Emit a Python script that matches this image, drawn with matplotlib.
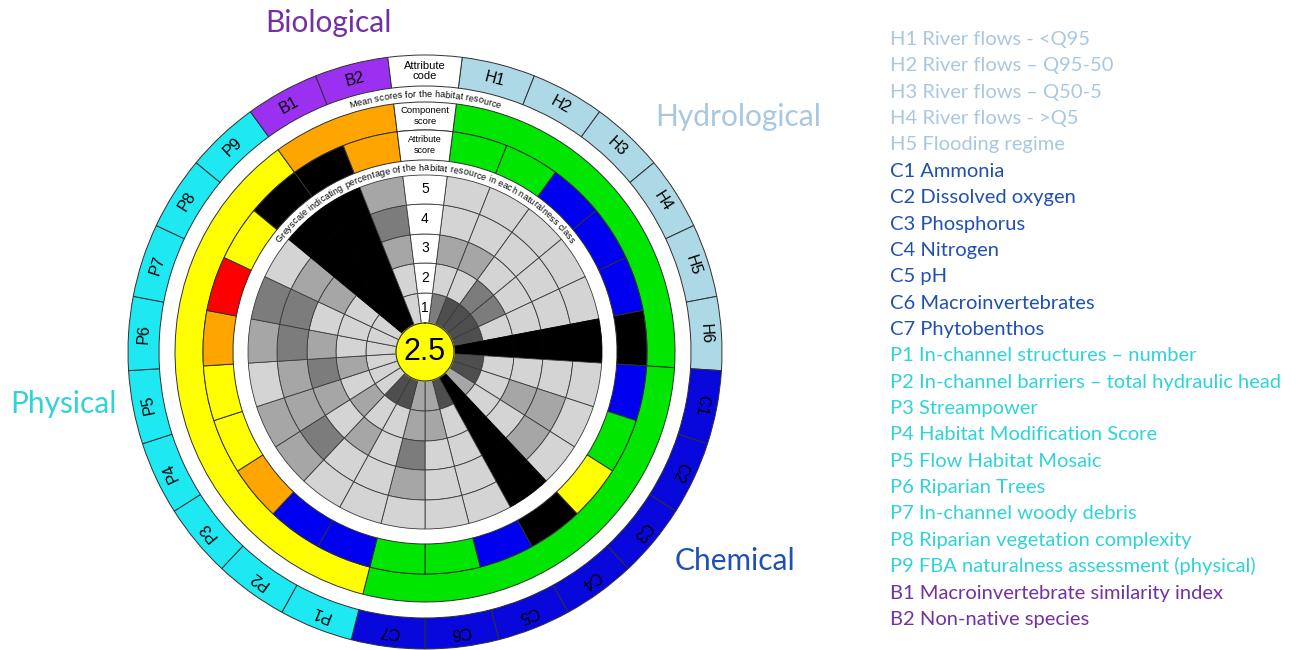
import numpy as np
import matplotlib
matplotlib.use("Agg")
import matplotlib.pyplot as plt
from matplotlib.font_manager import FontProperties, findfont, get_font

# attribute codes, clockwise from the header segment at the top
codes = ["H1", "H2", "H3", "H4", "H5", "H6",
         "C1", "C2", "C3", "C4", "C5", "C6", "C7",
         "P1", "P2", "P3", "P4", "P5", "P6", "P7", "P8", "P9",
         "B1", "B2"]

# attribute score class for each code
attr_class = ["good", "good", "high", "high", "high", "none",
              "high", "good", "moderate", "none", "high", "good", "good",
              "high", "high", "poor", "moderate", "moderate", "poor", "bad", "moderate", "none",
              "none", "poor"]

# component score class for each group
comp_groups = ["H", "C", "P", "B"]
comp_class = ["good", "good", "moderate", "poor"]

# greyscale shade per naturalness class 1..5 (1 light .. 5 black)
grey_shade = [
    [3, 1, 2, 1, 1], [4, 1, 2, 1, 1], [4, 3, 1, 1, 1], [4, 3, 1, 1, 1], [4, 1, 1, 1, 1], [5, 5, 5, 5, 5],
    [4, 1, 1, 1, 1], [4, 1, 2, 2, 1], [2, 1, 1, 2, 1], [5, 5, 5, 5, 5], [4, 1, 1, 1, 1], [2, 2, 1, 1, 1],
    [2, 2, 3, 2, 1],
    [4, 1, 1, 1, 1], [4, 1, 2, 1, 1], [1, 2, 1, 3, 2], [1, 1, 2, 2, 2], [1, 2, 3, 2, 1], [1, 1, 2, 3, 2],
    [1, 1, 1, 3, 3], [1, 1, 2, 2, 1], [5, 5, 5, 5, 5],
    [5, 5, 5, 5, 5], [1, 1, 2, 3, 2],
]
overall_score = 2.5

legend_entries = [
    ("H", "H1 River flows - <Q95"),
    ("H", "H2 River flows \u2013 Q95-50"),
    ("H", "H3 River flows \u2013 Q50-5"),
    ("H", "H4 River flows - >Q5"),
    ("H", "H5 Flooding regime"),
    ("C", "C1 Ammonia"),
    ("C", "C2 Dissolved oxygen"),
    ("C", "C3 Phosphorus"),
    ("C", "C4 Nitrogen"),
    ("C", "C5 pH"),
    ("C", "C6 Macroinvertebrates"),
    ("C", "C7 Phytobenthos"),
    ("P", "P1 In-channel structures \u2013 number"),
    ("P", "P2 In-channel barriers \u2013 total hydraulic head"),
    ("P", "P3 Streampower"),
    ("P", "P4 Habitat Modification Score"),
    ("P", "P5 Flow Habitat Mosaic"),
    ("P", "P6 Riparian Trees"),
    ("P", "P7 In-channel woody debris"),
    ("P", "P8 Riparian vegetation complexity"),
    ("P", "P9 FBA naturalness assessment (physical)"),
    ("B", "B1 Macroinvertebrate similarity index"),
    ("B", "B2 Non-native species"),
]

code_colours = {"H": "#add8e6", "C": "#0808dc", "P": "#1ee8f2", "B": "#9b30f0"}
class_colours = {"high": "#0000f0", "good": "#00e600", "moderate": "#ffff00",
                 "poor": "#ffa500", "bad": "#ff0000", "none": "#000000"}
shades = {1: "#d4d4d4", 2: "#a6a6a6", 3: "#7c7c7c", 4: "#4e4e4e", 5: "#000000"}
text_colours = {"H": "#a8c8e2", "C": "#2050b4", "P": "#2fd3d9", "B": "#7232a2"}

W, H = 1299, 650
fig = plt.figure(figsize=(W / 100, H / 100), dpi=100)
cx, cy, R = 425, 352, 300
ax = fig.add_axes([(cx - R) / W, (H - cy - R) / H, 2 * R / W, 2 * R / H], projection="polar")
ax.set_theta_zero_location("N")
ax.set_theta_direction(-1)
ax.set_ylim(0, R)
ax.axis("off")

nseg = len(codes) + 1
w = 2 * np.pi / nseg
theta = np.arange(1, nseg) * w
groups = [c[0] for c in codes]
edge = "#303030"

# attribute code ring
ax.bar(theta, 31, width=w, bottom=266, color=[code_colours[g] for g in groups],
       edgecolor=edge, linewidth=0.7)
ax.bar(0, 31, width=w, bottom=266, color="white", edgecolor=edge, linewidth=0.7)
for t, c in zip(theta, codes):
    ax.text(t, 281.5, c, rotation=-np.degrees(t), rotation_mode="anchor", ha="center",
            va="center", fontsize=11.5, family="Liberation Sans")
ax.text(0, 281, "Attribute\ncode", ha="center", va="center", fontsize=8,
        family="Liberation Sans", linespacing=0.95)

# component score ring
for g, cl in zip(comp_groups, comp_class):
    idx = [i for i, gg in enumerate(groups) if gg == g]
    tc = (theta[idx[0]] + theta[idx[-1]]) / 2
    ax.bar(tc, 28, width=w * len(idx), bottom=222, color=class_colours[cl],
           edgecolor=edge, linewidth=0.7)
ax.bar(0, 28, width=w, bottom=222, color="white", edgecolor=edge, linewidth=0.7)
ax.text(0, 236, "Component\nscore", ha="center", va="center", fontsize=6.8,
        family="Liberation Sans", linespacing=1.3)

# attribute score ring
ax.bar(theta, 30, width=w, bottom=192, color=[class_colours[c] for c in attr_class],
       edgecolor=edge, linewidth=0.7)
ax.bar(0, 30, width=w, bottom=192, color="white", edgecolor=edge, linewidth=0.7)
ax.text(0, 207, "Attribute\nscore", ha="center", va="center", fontsize=6.5,
        family="Liberation Sans", linespacing=1.3)

# greyscale naturalness classes
radii = [29, 59, 89, 118, 148, 177]
for k in range(5):
    cols = [shades[s[k]] for s in grey_shade]
    edges = ["#000000" if s[k] == 5 else "#3a3a3a" for s in grey_shade]
    ax.bar(theta, radii[k + 1] - radii[k], width=w, bottom=radii[k],
           color=cols, edgecolor=edges, linewidth=0.6)
    ax.bar(0, radii[k + 1] - radii[k], width=w, bottom=radii[k], color="white",
           edgecolor="#3a3a3a", linewidth=0.6)
    ax.text(0, (radii[k] + radii[k + 1]) / 2, str(k + 1), ha="center", va="center",
            fontsize=10, family="Liberation Sans")

# overall score in the centre
th = np.linspace(0, 2 * np.pi, 200)
ax.fill(th, np.full_like(th, 29), color="#ffff00", zorder=5)
ax.plot(th, np.full_like(th, 29), color="#303030", linewidth=0.8, zorder=6)
ax.text(0, 0, f"{overall_score}", ha="center", va="center", fontsize=22,
        family="Liberation Sans", zorder=7)


def arc_text(text, radius, span, family="Liberation Sans"):
    size = 6.0
    font = get_font(findfont(FontProperties(family=family)))
    font.set_size(size, fig.dpi)
    adv = []
    for ch in text:
        g = font.load_char(ord(ch))
        adv.append(g.linearHoriAdvance / 65536)
    adv = np.array(adv)
    size = size * span / adv.sum()
    adv = adv * span / adv.sum()
    pos = np.cumsum(adv) - adv / 2 - span / 2
    for ch, p in zip(text, pos):
        t = p / radius
        ax.text(t, radius, ch, rotation=-np.degrees(t), rotation_mode="anchor",
                ha="center", va="baseline", fontsize=size, family=family)


arc_text("Mean scores for the habitat resource", 255, 152)
arc_text("Greyscale indicating percentage of the habitat resource in each naturalness class",
         181.5, 337)

# component headings
fig.text(265 / W, 1 - 32 / H, "Biological", color=text_colours["B"], fontsize=21.5,
         family="Lato", va="baseline")
fig.text(655 / W, 1 - 126 / H, "Hydrological", color=text_colours["H"], fontsize=21.5,
         family="Lato", va="baseline")
fig.text(675 / W, 1 - 570 / H, "Chemical", color=text_colours["C"], fontsize=21.5,
         family="Lato", va="baseline")
fig.text(10 / W, 1 - 413 / H, "Physical", color=text_colours["P"], fontsize=21.5,
         family="Lato", va="baseline")

# attribute legend
for k, (g, label) in enumerate(legend_entries):
    fig.text(890 / W, 1 - (45 + 26.36 * k) / H, label, color=text_colours[g],
             fontsize=14.5, family="Lato", va="baseline")

fig.savefig("out.png", dpi=100)
